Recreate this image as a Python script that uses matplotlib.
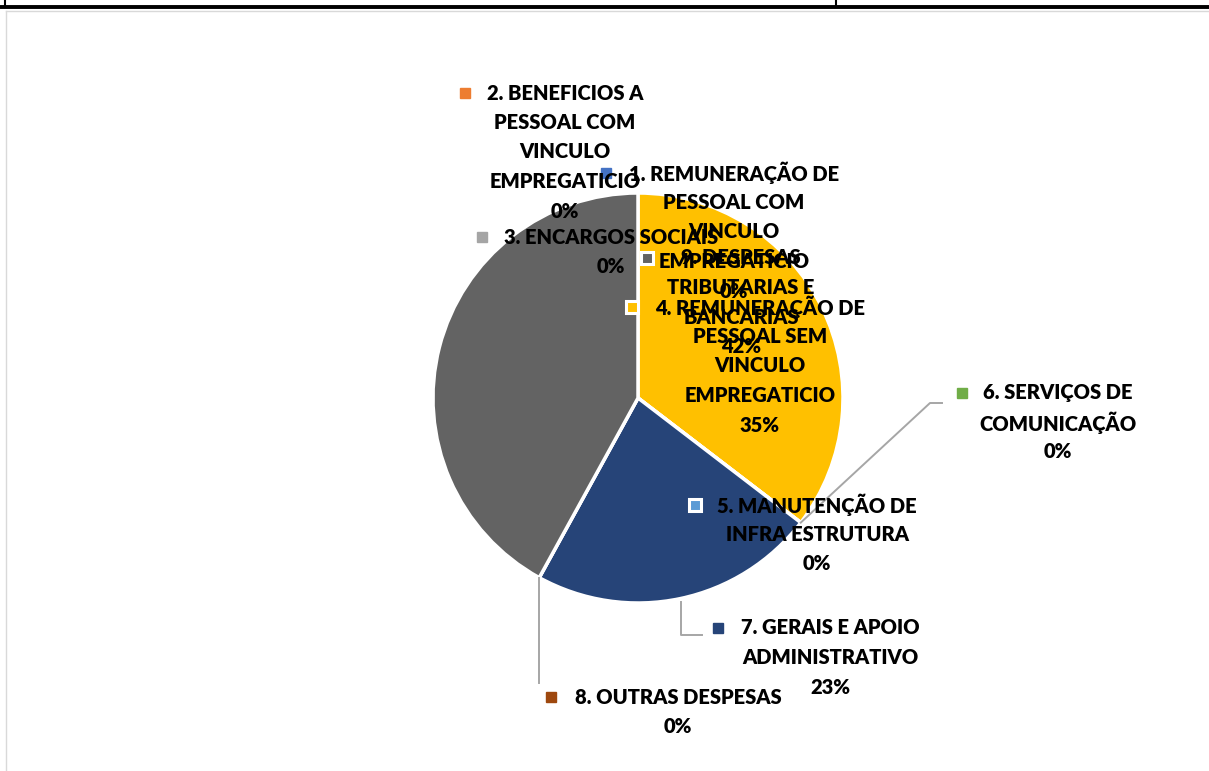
import numpy as np
import matplotlib.pyplot as plt

# categories and shares (%)
categories = [
    "1. REMUNERAÇÃO DE PESSOAL COM VINCULO EMPREGATICIO",
    "2. BENEFICIOS A PESSOAL COM VINCULO EMPREGATICIO",
    "3. ENCARGOS SOCIAIS",
    "4. REMUNERAÇÃO DE PESSOAL SEM VINCULO EMPREGATICIO",
    "5. MANUTENÇÃO DE INFRA ESTRUTURA",
    "6. SERVIÇOS DE COMUNICAÇÃO",
    "7. GERAIS E APOIO ADMINISTRATIVO",
    "8. OUTRAS DESPESAS",
    "9. DESPESAS TRIBUTARIAS E BANCARIAS",
]
label_lines = [
    ["1. REMUNERAÇÃO DE", "PESSOAL COM", "VINCULO", "EMPREGATICIO"],
    ["2. BENEFICIOS A", "PESSOAL COM", "VINCULO", "EMPREGATICIO"],
    ["3. ENCARGOS SOCIAIS"],
    ["4. REMUNERAÇÃO DE", "PESSOAL SEM", "VINCULO", "EMPREGATICIO"],
    ["5. MANUTENÇÃO DE", "INFRA ESTRUTURA"],
    ["6. SERVIÇOS DE", "COMUNICAÇÃO"],
    ["7. GERAIS E APOIO", "ADMINISTRATIVO"],
    ["8. OUTRAS DESPESAS"],
    ["9. DESPESAS", "TRIBUTARIAS E", "BANCARIAS"],
]
values = [0, 0, 0, 35.4, 0, 0, 22.6, 0, 42.0]
colors = ["#4472C4", "#ED7D31", "#A5A5A5", "#FFC000", "#5B9BD5",
          "#70AD47", "#264478", "#9E480E", "#636363"]

W, H = 1209, 771
fig = plt.figure(figsize=(W / 100, H / 100), dpi=100)
ax = fig.add_axes([0, 0, 1, 1])
ax.axis("off")

cx, cy, R = 638, 398, 205
# y axis is inverted, so counterclock=True draws clockwise on screen
ax.pie(values, colors=colors, center=(cx, cy), radius=R, startangle=-90,
       counterclock=True, wedgeprops=dict(edgecolor="white", linewidth=2.5))
ax.set_xlim(0, W)
ax.set_ylim(H, 0)
ax.set_aspect("equal")

# page frame bits
ax.plot([0, W], [6.5, 6.5], color="black", lw=2.8)
ax.plot([5, 5], [0, 6.5], color="black", lw=1.5)
ax.plot([836, 836], [0, 6.5], color="black", lw=1.5)
ax.plot([6, W], [11, 11], color="#D9D9D9", lw=1)
ax.plot([6, 6], [11, H], color="#D9D9D9", lw=1)

total = sum(values)
cum = np.concatenate([[0], np.cumsum(values)]) / total


def edge_point(frac, r=R):
    a = 2 * np.pi * frac
    return cx + r * np.sin(a), cy - r * np.cos(a)


# label layout: (center x, first line y, marker x, white-edged marker)
layout = [
    (734, 173, 606, False),
    (565, 93, 465, False),
    (611, 237, 482, False),
    (760, 307, 632, True),
    (817, 505, 695, True),
    (1058, 393, 962, False),
    (830, 628, 718, False),
    (678, 697, 551, False),
    (741, 258, 647, True),
]
step = 29.5
font = dict(family=["Lato", "DejaVu Sans"], fontweight="heavy", fontsize=14.5,
            color="black", ha="center", va="center")

# leader lines
lc = "#A6A6A6"
x0, y0 = edge_point(cum[5])
ax.plot([x0, 930, 942], [y0, 403, 403], color=lc, lw=1.4, zorder=3)
x0, y0 = edge_point((cum[6] + cum[7]) / 2, R + 3)
ax.plot([x0, x0, 702], [y0, 635, 635], color=lc, lw=1.4, zorder=3)
x0, y0 = edge_point(cum[7])
ax.plot([x0, x0], [y0, 683], color=lc, lw=1.4, zorder=3)

for i, lines in enumerate(label_lines):
    xc, ys, xm, edged = layout[i]
    pct = f"{round(values[i] / total * 100):.0f}%"
    for k, line in enumerate(lines + [pct]):
        ax.text(xc, ys + k * step, line, zorder=5, **font)
    if edged:
        ax.plot(xm, ys, marker="s", markersize=9, markerfacecolor=colors[i],
                markeredgecolor="white", markeredgewidth=2.2, zorder=4)
    else:
        ax.plot(xm, ys, marker="s", markersize=6.5, markerfacecolor=colors[i],
                markeredgecolor=colors[i], zorder=4)

fig.savefig("out.png", dpi=100)
